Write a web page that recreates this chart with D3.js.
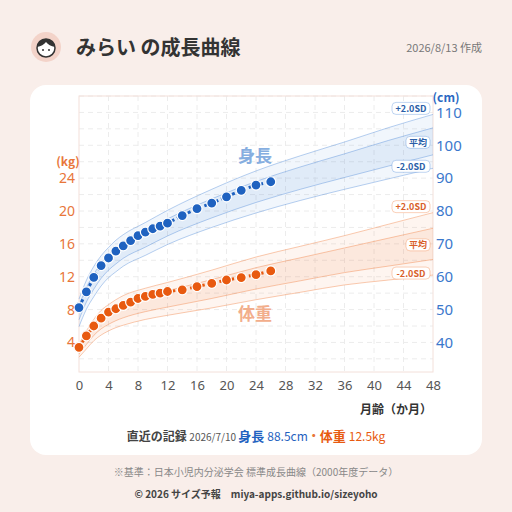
<!DOCTYPE html>
<html><head><meta charset="utf-8">
<script src="https://cdn.jsdelivr.net/npm/d3@7"></script>
<style>body{margin:0;background:#f9eeea;font-family:"Noto Sans CJK JP","Noto Sans",sans-serif}</style>
</head><body><div class="visHolder"></div>
<script>
// recorded data
const months = [0,1,2,3,4,5,6,7,8,9,10,11,12,14,16,18,20,22,24,26];
const heightCm = [50.6,55.4,59.8,63.4,65.7,67.8,69.4,71,72.5,73.6,74.6,75.4,76.3,78.6,80.7,82.4,84.3,86.3,87.9,88.9];
const weightKg = [3.4,4.8,6.0,6.95,7.7,8.1,8.5,8.9,9.35,9.6,9.85,10.0,10.2,10.4,10.8,11.2,11.6,11.9,12.25,12.7];
// standards
const stdMonths = [0,1,2,3,4,5,6,9,12,18,24,30,36,42,48];
const hMean = [49.0,54.5,58.5,61.8,64.3,66.3,68.0,71.5,75.0,80.8,85.8,90.0,93.8,97.6,101.2];
const hSd = [2.1,2.2,2.3,2.3,2.3,2.4,2.4,2.5,2.6,2.9,3.2,3.4,3.6,3.9,4.1];
const wMean = [3.0,4.3,5.5,6.4,7.0,7.5,7.9,8.7,9.3,10.5,11.8,12.9,14.0,15.0,16.0];
const wSd = [0.4,0.55,0.65,0.75,0.8,0.85,0.9,0.95,1.0,1.15,1.3,1.4,1.5,1.7,1.9];
const xTicks = d3.range(0,49,4);
const kgTicks = [4,8,12,16,20,24];
const cmTicks = [40,50,60,70,80,90,100,110];

const W=512,H=512;
const svg=d3.select('.visHolder').append('svg').attr('width',W).attr('height',H);
const blue='#1f62c0', orange='#e85a10';

svg.append('rect').attr('x',30).attr('y',85).attr('width',452).attr('height',370).attr('rx',16).attr('fill','#fff');

// header
svg.append('circle').attr('cx',46).attr('cy',47).attr('r',15).attr('fill','#f3d3c9');
svg.append('path').attr('d','M37,48 a9,9 0 1,1 18,0 a9,9 0 1,1 -18,0').attr('fill','#fff').attr('stroke','#333').attr('stroke-width',1.5);
svg.append('path').attr('d','M37,47 q2,-8 9,-8 q7,0 9,8 q-6,-1 -9,-5 q-3,4 -9,5z').attr('fill','#333');
svg.append('circle').attr('cx',43).attr('cy',50).attr('r',1).attr('fill','#333');
svg.append('circle').attr('cx',49).attr('cy',50).attr('r',1).attr('fill','#333');
svg.append('text').attr('x',76).attr('y',55).text('みらい の成長曲線').attr('font-size',20).attr('font-weight','bold').attr('fill','#333');
svg.append('text').attr('x',482).attr('y',52).attr('text-anchor','end').text('2026/8/13 作成').attr('font-size',11).attr('fill','#777');

const x=d3.scaleLinear().domain([0,48]).range([79,433]);
const yCm=d3.scaleLinear().domain([31,115]).range([372,96]);
const yKg=d3.scaleLinear().domain([0.4,34]).range([372,96]);

const g=svg.append('g');
g.selectAll('.hg').data(d3.range(35,116,5)).enter().append('line')
  .attr('x1',79).attr('x2',433).attr('y1',d=>yCm(d)).attr('y2',d=>yCm(d))
  .attr('stroke','#ececec').attr('stroke-dasharray','5,4');
g.selectAll('.vg').data(xTicks.slice(1,-1)).enter().append('line')
  .attr('y1',96).attr('y2',372).attr('x1',d=>x(d)).attr('x2',d=>x(d))
  .attr('stroke','#ececec').attr('stroke-dasharray','5,4');
g.append('rect').attr('x',79).attr('y',96).attr('width',354).attr('height',276).attr('fill','none').attr('stroke','#f3e0da');

function bands(mean,sd,y,col){
  const pts=stdMonths.map((m,i)=>({m,mean:mean[i],sd:sd[i]}));
  const area=(a,b)=>d3.area().curve(d3.curveMonotoneX).x(d=>x(d.m)).y0(d=>y(d.mean+a*d.sd)).y1(d=>y(d.mean+b*d.sd));
  g.append('path').datum(pts).attr('d',area(-2,2)).attr('fill',col).attr('opacity',0.08);
  g.append('path').datum(pts).attr('d',area(-1,1)).attr('fill',col).attr('opacity',0.1);
  [-2,-1,1,2].forEach(k=>{
    g.append('path').datum(pts).attr('d',d3.line().curve(d3.curveMonotoneX).x(d=>x(d.m)).y(d=>y(d.mean+k*d.sd)))
      .attr('fill','none').attr('stroke',col).attr('stroke-opacity',0.4).attr('stroke-width',1);
  });
  const last=pts[pts.length-1];
  [[2,'+2.0SD'],[0,'平均'],[-2,'-2.0SD']].forEach(([k,t])=>{
    const yy=y(last.mean+k*last.sd)+(k===2?-6:k===0?1:-2);
    const w=t.length>3?38:24;
    g.append('rect').attr('x',430-w).attr('y',yy-6).attr('width',w).attr('height',12).attr('rx',4)
      .attr('fill','#fff').attr('stroke',col).attr('stroke-opacity',0.35);
    g.append('text').attr('x',430-w/2).attr('y',yy+3.5).attr('text-anchor','middle').text(t)
      .attr('font-size',9).attr('font-weight','bold').attr('fill',col==='#4a86d6'?'#2a5ea8':'#d9602a');
  });
}
bands(hMean,hSd,yCm,'#4a86d6');
bands(wMean,wSd,yKg,'#f07a3a');

svg.append('text').attr('x',255).attr('y',162).attr('text-anchor','middle').text('身長').attr('font-size',17).attr('font-weight','bold').attr('fill','#86aee0');
svg.append('text').attr('x',255).attr('y',320).attr('text-anchor','middle').text('体重').attr('font-size',17).attr('font-weight','bold').attr('fill','#f2ae8c');

function series(vals,y,col){
  const d=months.map((m,i)=>[m,vals[i]]);
  g.append('path').datum(d).attr('d',d3.line().x(p=>x(p[0])).y(p=>y(p[1])))
    .attr('fill','none').attr('stroke',col).attr('stroke-width',3).attr('stroke-dasharray','3,3');
  g.selectAll(null).data(d).enter().append('circle').attr('cx',p=>x(p[0])).attr('cy',p=>y(p[1])).attr('r',5)
    .attr('fill',col).attr('stroke','#fff').attr('stroke-width',1.2);
}
series(heightCm,yCm,blue);
series(weightKg,yKg,orange);

// axes
svg.append('g').attr('transform','translate(0,372)').call(d3.axisBottom(x).tickValues(xTicks).tickSize(0).tickPadding(9))
  .call(a=>a.select('.domain').remove())
  .call(a=>a.selectAll('text').attr('font-size',13).attr('fill','#555').attr('font-family','Noto Sans'));
svg.append('g').attr('transform','translate(79,0)').call(d3.axisLeft(yKg).tickValues(kgTicks).tickSize(0).tickPadding(4))
  .call(a=>a.select('.domain').remove())
  .call(a=>a.selectAll('text').attr('font-size',14).attr('fill','#e8763a').attr('font-family','Noto Sans'));
svg.append('g').attr('transform','translate(433,0)').call(d3.axisRight(yCm).tickValues(cmTicks).tickSize(0).tickPadding(3))
  .call(a=>a.select('.domain').remove())
  .call(a=>a.selectAll('text').attr('font-size',15).attr('fill','#3b78cc').attr('font-family','Noto Sans'));
svg.append('text').attr('x',68).attr('y',166).attr('text-anchor','middle').text('(kg)').attr('font-size',12).attr('font-weight','bold').attr('fill','#e8763a');
svg.append('text').attr('x',446).attr('y',102).attr('text-anchor','middle').text('(cm)').attr('font-size',12).attr('font-weight','bold').attr('fill','#2a68c2');
svg.append('text').attr('x',432).attr('y',414).attr('text-anchor','end').text('月齢（か月）').attr('font-size',12).attr('font-weight','bold').attr('fill','#333');

// latest record
const rec=svg.append('text').attr('x',256).attr('y',441).attr('text-anchor','middle').attr('font-weight','bold');
rec.append('tspan').text('直近の記録 ').attr('font-size',12).attr('fill','#444');
rec.append('tspan').text('2026/7/10 ').attr('font-size',10).attr('fill','#555').attr('font-weight','normal');
rec.append('tspan').text(' 身長 ').attr('font-size',13).attr('fill',blue);
rec.append('tspan').text('88.5cm').attr('font-size',12).attr('fill',blue).attr('font-weight','normal');
rec.append('tspan').text('・').attr('font-size',12).attr('fill','#e8763a');
rec.append('tspan').text('体重 ').attr('font-size',13).attr('fill',orange);
rec.append('tspan').text('12.5kg').attr('font-size',12).attr('fill',orange).attr('font-weight','normal');

svg.append('text').attr('x',256).attr('y',476).attr('text-anchor','middle').text('※基準：日本小児内分泌学会 標準成長曲線（2000年度データ）').attr('font-size',10).attr('fill','#888');
svg.append('text').attr('x',256).attr('y',498).attr('text-anchor','middle').text('© 2026 サイズ予報　miya-apps.github.io/sizeyoho').attr('font-size',10).attr('font-weight','bold').attr('fill','#444');
</script></body></html>
